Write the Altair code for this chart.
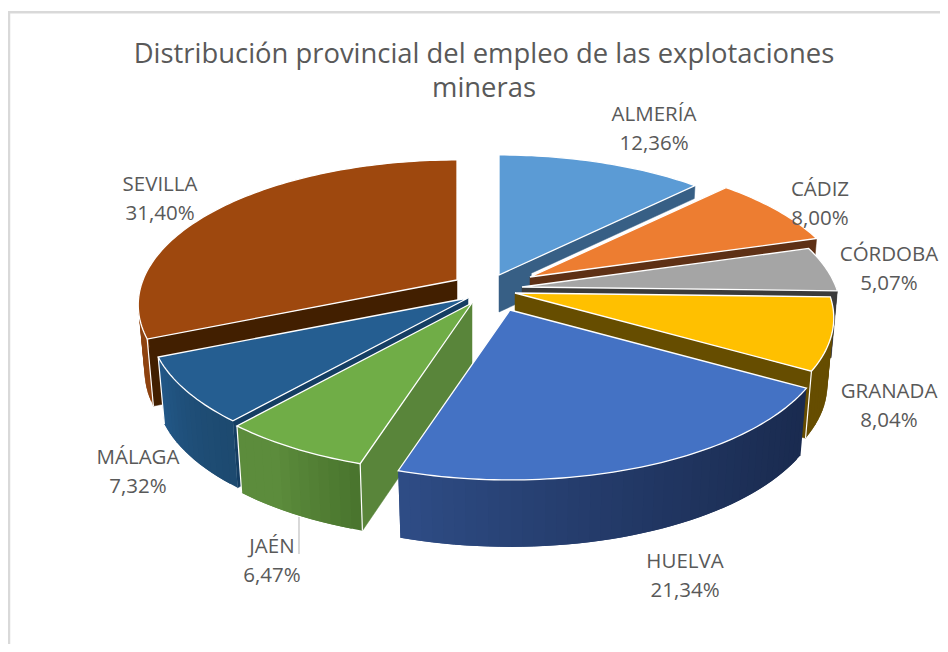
import math
import altair as alt
import pandas as pd

# ---- data ----
PROVINCES = ["ALMERÍA", "CÁDIZ", "CÓRDOBA", "GRANADA", "HUELVA", "JAÉN", "MÁLAGA", "SEVILLA"]
SHARES = [12.36, 8.00, 5.07, 8.04, 21.34, 6.47, 7.32, 31.40]
SHARE_LABELS = ["12,36%", "8,00%", "5,07%", "8,04%", "21,34%", "6,47%", "7,32%", "31,40%"]
TITLE_LINES = ["Distribución provincial del empleo de las explotaciones", "mineras"]

# ---- styles ----
TOP = ["#5B9BD5", "#ED7D31", "#A5A5A5", "#FFC000", "#4472C4", "#70AD47", "#255E91", "#9E480E"]
RADIAL = ["#375F85", "#5E3015", "#3B3B3B", "#664D00", "#1A2B50", "#59853A", "#153E63", "#421F00"]
OUTER_A = ["#375F85", "#5E3015", "#3B3B3B", "#664D00", "#2F4D87", "#5C8C3C", "#23598A", "#8E4310"]
OUTER_B = ["#375F85", "#5E3015", "#3B3B3B", "#664D00", "#1A2B50", "#4A752E", "#1D4A70", "#8E4310"]
DRAW_ORDER = [0, 1, 2, 3, 7, 6, 5, 4]

# ---- layout of the exploded pie (pixels, page coordinates) ----
CENTRE = (490, 292)
EXPLODE = [(9, -17), (40, -15), (32, -5), (25, 1), (20, 18), (-18, 11), (-22, 6), (-33, -12)]
RX, RY, PERSP, DEPTH, SHRINK = 314, 140.7, 0.172, 67, 0.02
PAGE = 8


def project(tip, theta, r=1.0, z=0.0):
    u = r * math.sin(theta)
    v = -r * math.cos(theta)
    s = 1 / (1 - PERSP * v)
    k = 1 - SHRINK * z / DEPTH
    return [tip[0] + RX * u * s * k - PAGE, tip[1] + RY * v * s + z - PAGE]


def feature(points, fill, stroke, width):
    ring = points + [points[0]]
    return {
        "type": "Feature",
        "geometry": {"type": "Polygon", "coordinates": [ring]},
        "properties": {"fill": fill, "stroke": stroke, "sw": width},
    }


def mix(a, b, t):
    ca = [int(a[i:i + 2], 16) for i in (1, 3, 5)]
    cb = [int(b[i:i + 2], 16) for i in (1, 3, 5)]
    return "#%02x%02x%02x" % tuple(round(x + (y - x) * t) for x, y in zip(ca, cb))


features = []
edges = [0.0]
for value in SHARES:
    edges.append(edges[-1] + value / sum(SHARES) * 2 * math.pi)

for i in DRAW_ORDER:
    a0, a1 = edges[i], edges[i + 1]
    tip = (CENTRE[0] + EXPLODE[i][0], CENTRE[1] + EXPLODE[i][1])

    # radial wall that faces the viewer
    if a1 <= math.pi:
        edge = a1
    elif a0 >= math.pi:
        edge = a0
    else:
        edge = None
    if edge is not None:
        if i == 0:  # the far wall is only partly drawn in the original
            poly = [project(tip, edge, 0), project(tip, edge, 1),
                    project(tip, edge, 1, 13), project(tip, edge, 0.15, 13),
                    project(tip, edge, 0.15, 37), project(tip, edge, 0, 37)]
        else:
            poly = [project(tip, edge, 0), project(tip, edge, 1),
                    project(tip, edge, 1, DEPTH), project(tip, edge, 0, DEPTH)]
        features.append(feature(poly, RADIAL[i], RADIAL[i], 0.5))

    # outer wall, front half only, in small overlapping steps to carry the shading
    w0, w1 = max(a0, math.pi / 2), min(a1, 3 * math.pi / 2)
    if w1 > w0:
        n = max(2, int((w1 - w0) / 0.03))
        for j in range(n):
            t0 = w0 + (w1 - w0) * j / n
            t1 = min(w1, w0 + (w1 - w0) * (j + 2) / n)
            f = (t0 - w0) / (w1 - w0)
            col = mix(OUTER_B[i], OUTER_A[i], min(1, f * 1.6) if i == 5 else f ** 1.4)
            features.append(feature(
                [project(tip, t0), project(tip, t1),
                 project(tip, t1, 1, DEPTH), project(tip, t0, 1, DEPTH)],
                col, col, 0))
        # light corner lines
        corners = {3: [w1], 5: [w0, w1], 6: [w1], 7: [w0]}
        for t in corners.get(i, []):
            a, b = project(tip, t), project(tip, t, 1, DEPTH)
            features.append(feature([a, b], "#FFFFFF", "#FFFFFF", 1.2))

    # top face
    n = max(4, int((a1 - a0) / 0.02))
    rim = [project(tip, a0 + (a1 - a0) * j / n) for j in range(n + 1)]
    features.append(feature([project(tip, a0, 0)] + rim, TOP[i], "#FFFFFF", 1.3))

shapes = alt.InlineData(
    values={"type": "FeatureCollection", "features": features},
    format=alt.DataFormat(property="features", type="json"),
)

pie = alt.Chart(shapes).mark_geoshape().encode(
    fill=alt.Fill("properties.fill:N", scale=None),
    stroke=alt.Stroke("properties.stroke:N", scale=None),
    strokeWidth=alt.StrokeWidth("properties.sw:Q", scale=None),
).project(type="identity", scale=1, translate=[0, 0])

# ---- labels ----
LABEL_X = [654, 820, 889, 889, 685, 272, 138, 160]
LABEL_Y = [115, 190, 255, 392, 562, 547, 458, 185]
labels = pd.DataFrame({
    "text": [f"{p}\n{s}" for p, s in zip(PROVINCES, SHARE_LABELS)],
    "x": [x - PAGE for x in LABEL_X],
    "y": [y - PAGE for y in LABEL_Y],
})
label_layer = alt.Chart(labels).mark_text(
    font="Open Sans", fontSize=20.5, color="#595959", lineBreak="\n", lineHeight=29,
    align="center", baseline="middle",
).encode(
    x=alt.X("x:Q", scale=None),
    y=alt.Y("y:Q", scale=None),
    text="text:N",
)

leader = alt.Chart(pd.DataFrame({"a": [0]})).mark_rule(color="#BFBFBF", strokeWidth=1.2).encode(
    x=alt.value(299 - PAGE), y=alt.value(517 - PAGE), y2=alt.value(554 - PAGE)
)
frame_top = alt.Chart(pd.DataFrame({"a": [0]})).mark_rule(color="#D9D9D9", strokeWidth=2.5).encode(
    y=alt.value(4.3), x=alt.value(0), x2=alt.value(932)
)
frame_left = alt.Chart(pd.DataFrame({"a": [0]})).mark_rule(color="#D9D9D9", strokeWidth=2.5).encode(
    x=alt.value(1), y=alt.value(3), y2=alt.value(636)
)

chart = (
    alt.layer(frame_top, frame_left, leader, pie, label_layer)
    .properties(
        width=932,
        height=636,
        padding=0,
        autosize=alt.AutoSizeParams(type="none"),
        title=alt.TitleParams(
            text=TITLE_LINES,
            font="Open Sans",
            fontSize=27.4,
            fontWeight="normal",
            color="#595959",
            anchor="middle",
            lineHeight=34,
            dx=10,
            dy=98,
        ),
    )
    .resolve_scale(x="independent", y="independent")
    .configure_view(stroke=None)
)

chart.save("out.html", embed_options={"renderer": "svg", "actions": False})
